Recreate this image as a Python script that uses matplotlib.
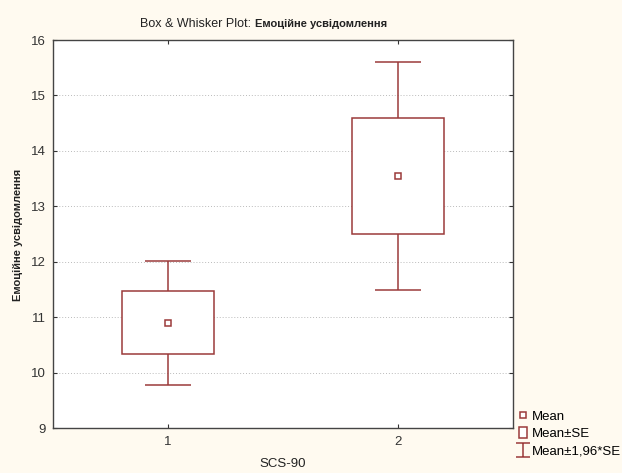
import matplotlib
matplotlib.use('Agg')
import matplotlib.pyplot as plt
from matplotlib.lines import Line2D
from matplotlib.patches import Patch
from matplotlib.path import Path

# data: means and standard errors per SCS-90 group
groups = [1, 2]
means = [10.9, 13.55]
se = [0.57, 1.05]
title_plain = 'Box & Whisker Plot: '
title_var = 'Емоційне усвідомлення'
ylabel = 'Емоційне усвідомлення'
xlabel = 'SCS-90'
legend_labels = ['Mean', 'Mean±SE', 'Mean±1,96*SE']

col = '#9b3a3a'
bg = '#fffaf0'

plt.rcParams['font.family'] = ['Liberation Sans', 'DejaVu Sans']

fig = plt.figure(figsize=(6.22, 4.73), dpi=100, facecolor=bg)
ax = fig.add_axes([53/622, 1-428/473, 460/622, 388/473])
ax.set_facecolor('white')

lo = [m - s for m, s in zip(means, se)]
ci = [1.96*s for s in se]

ax.errorbar(groups, means, yerr=ci, fmt='none', ecolor=col, elinewidth=1.1,
            capsize=16.5, capthick=1.1, zorder=2)
ax.bar(groups, [2*s for s in se], bottom=lo, width=0.4, facecolor='white',
       edgecolor=col, linewidth=1.1, zorder=3)
ax.plot(groups, means, 's', ms=4.5, mfc='white', mec=col, mew=1.1, zorder=4)

ax.set_xlim(0.5, 2.5)
ax.set_ylim(9, 16)
ax.set_xticks(groups)
ax.set_yticks(range(9, 17))
ax.tick_params(direction='in', length=3, labelsize=9.5, colors='#333333',
               top=True, right=True, pad=6)
ax.tick_params(axis='y', pad=5)
ax.grid(axis='y', linestyle=(0, (1, 2)), color='#bbbbbb', linewidth=0.7, zorder=0)
ax.set_axisbelow(True)
for sp in ax.spines.values():
    sp.set_color('#444444')
    sp.set_linewidth(1.0)

ax.set_xlabel(xlabel, fontsize=9.5, color='#222222', labelpad=7)
fig.text(18.5/622, 1-235/473, ylabel, rotation=90, fontsize=8, fontweight='bold',
         ha='center', va='center', color='#222222')

fig.text(140/622, 1-27/473, title_plain, fontsize=9, color='#222222', va='baseline')
fig.text(255/622, 1-27/473, title_var, fontsize=8, fontweight='bold',
         color='#222222', va='baseline')

ibar = Path([(-0.5, 0.5), (0.5, 0.5), (0, 0.5), (0, -0.5), (-0.5, -0.5), (0.5, -0.5)],
            [Path.MOVETO, Path.LINETO, Path.MOVETO, Path.LINETO, Path.MOVETO, Path.LINETO])
handles = [
    Line2D([], [], marker='s', ls='none', ms=4.5, mfc='white', mec=col, mew=1.1),
    Patch(facecolor='white', edgecolor=col, linewidth=1.1),
    Line2D([], [], marker=ibar, ls='none', ms=10, mfc='none', mec=col, mew=1.1),
]
fig.legend(handles, legend_labels, loc='upper left', bbox_to_anchor=(519/622, 1-410/473),
           frameon=False, fontsize=9.5, handlelength=0.6, handleheight=0.85,
           handletextpad=0.35, labelspacing=0.35, borderpad=0, borderaxespad=0)

fig.savefig('out.png', dpi=100, facecolor=bg)
